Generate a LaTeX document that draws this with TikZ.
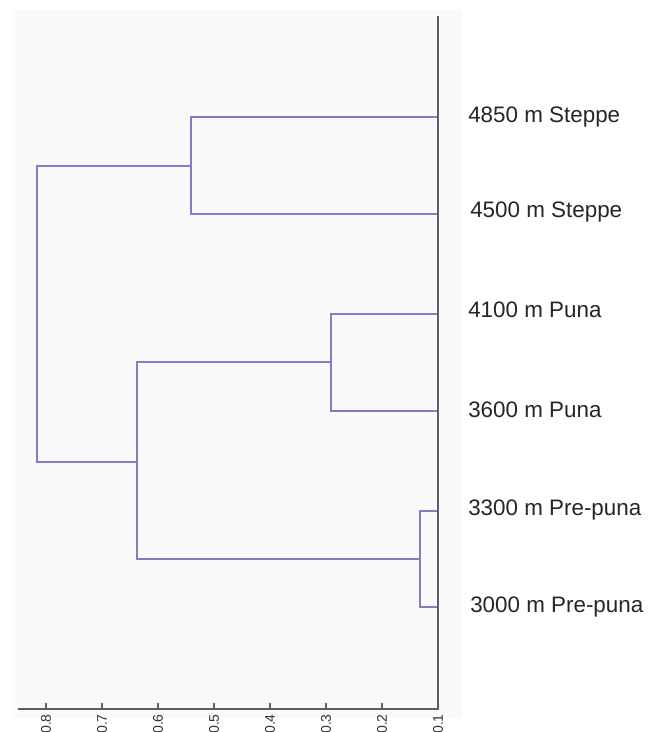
\documentclass[tikz,border=0pt]{standalone}
\usepackage{fontspec}
\setmainfont{Liberation Sans}
\definecolor{dendro}{RGB}{128,128,192}
\definecolor{axisgray}{RGB}{95,95,95}
\definecolor{plotbg}{RGB}{250,250,250}
\begin{document}
\begin{tikzpicture}[x=0.75pt,y=-0.75pt,
  link/.style={draw=dendro, line width=1.3pt},
  axisline/.style={draw=axisgray, line width=1.3pt},
  leaflabel/.style={anchor=west, inner sep=0pt, text=black!85, font=\fontsize{16.8pt}{18pt}\selectfont},
  ticklabel/.style={anchor=east, rotate=90, inner sep=0pt, text=black!80, font=\fontsize{10.5pt}{11pt}\selectfont}]
\useasboundingbox (0,0) rectangle (650,732);
\fill[white] (0,0) rectangle (650,732);
\fill[plotbg] (12,10) rectangle (462,718);
% leaves (on the axis)
\coordinate (l1) at (438,117);
\coordinate (l2) at (438,214);
\coordinate (l3) at (438,314);
\coordinate (l4) at (438,411);
\coordinate (l5) at (438,511);
\coordinate (l6) at (438,607);
% merges
\coordinate (m1) at (191,166);
\coordinate (m2) at (331,362);
\coordinate (m3) at (420,559);
\coordinate (m4) at (137,462);
\coordinate (r) at (37,462);
\draw[link] (l1) -| (m1) |- (l2);
\draw[link] (l3) -| (m2) |- (l4);
\draw[link] (l5) -| (m3) |- (l6);
\draw[link] (m2) -| (m4) |- (m3);
\draw[link] (m1) -| (r) |- (m4);
% axes
\coordinate (atop) at (438,16);
\coordinate (acorner) at (438,709);
\coordinate (aleft) at (18,709);
\draw[axisline] (atop) -- (acorner) -- (aleft);
\foreach \k/\lab in {8/0.8,7/0.7,6/0.6,5/0.5,4/0.4,3/0.3,2/0.2,1/0.1}{
  \pgfmathsetmacro{\xx}{438-(\k-1)*56}
  \coordinate (t\k) at (\xx,709);
  \draw[axisline, line width=1pt] (t\k) -- ++(0,-6);
  \node[ticklabel] (tl\k) at (\xx,714) {\lab};
}
% labels
\node[leaflabel] (n1) at (468,117) {4850 m Steppe};
\node[leaflabel] (n2) at (470,212) {4500 m Steppe};
\node[leaflabel] (n3) at (468,310) {4100 m Puna};
\node[leaflabel] (n4) at (468,410) {3600 m Puna};
\node[leaflabel] (n5) at (468,510) {3300 m Pre-puna};
\node[leaflabel] (n6) at (470,607) {3000 m Pre-puna};
\end{tikzpicture}
\end{document}
